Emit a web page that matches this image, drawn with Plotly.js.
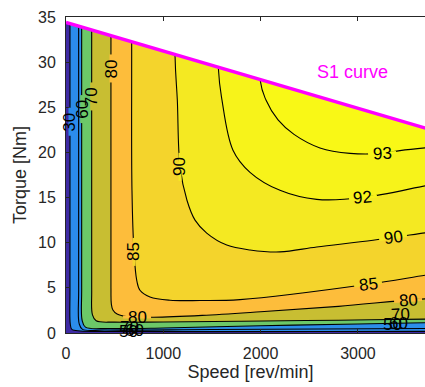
<!DOCTYPE html>
<html><head><meta charset="utf-8">
<script src="https://cdn.plot.ly/plotly-3.0.1.min.js"></script>
<style>html,body{margin:0;padding:0;overflow:hidden;background:#fff;width:425px;height:387px}#chart{width:470px;height:387px}</style>
</head><body><div id="chart"></div>
<script>
// ---- data ----
const levels = [30, 50, 60, 70, 80, 85, 90, 92, 93];

const s1Speed = [0, 3800];
const s1Torque = [34.4, 22.35];

const c30Speed  = [41, 41, 44, 60, 150, 400, 1500, 3800];
const c30Torque = [34.27, 5, 1.0, 0.4, 0.22, 0.16, 0.15, 0.18];
const c50Speed  = [130, 130, 136, 170, 400, 1500, 3800];
const c50Torque = [33.99, 5, 1.0, 0.4, 0.33, 0.38, 0.5];
const c60Speed  = [161, 161, 166, 200, 450, 1000, 2000, 3000, 3800];
const c60Torque = [33.89, 5, 1.4, 0.65, 0.5, 0.55, 0.8, 1.0, 1.15];
const c70Speed  = [264, 264, 272, 310, 500, 1000, 1800, 2800, 3800];
const c70Torque = [33.56, 5, 2.0, 1.35, 1.2, 1.22, 1.3, 1.42, 1.55];
const c80Speed  = [462, 462, 466, 482, 525, 630, 900, 1400, 2000, 2800, 3800];
const c80Torque = [32.94, 5, 3.2, 2.55, 2.1, 1.8, 1.75, 1.95, 2.35, 2.95, 3.85];
const c85Speed  = [675, 678, 699, 727, 760, 863, 1069, 1377, 1788, 3104, 3690, 3800];
const c85Torque = [32.26, 15.8, 8.98, 5.84, 4.73, 3.99, 3.63, 3.6, 3.7, 5.4, 6.4, 6.55];
const c90Speed  = [1120, 1144, 1172, 1243, 1326, 1446, 1652, 1891, 2199, 2576, 3155, 3690, 3800];
const c90Torque = [30.85, 25.8, 18.4, 14.7, 12.5, 11.07, 9.74, 9.2, 8.98, 9.53, 10.28, 11.09, 11.25];
const c92Speed  = [1565, 1603, 1716, 1891, 2199, 2576, 3052, 3690, 3800];
const c92Torque = [29.44, 25.8, 20.25, 17.8, 15.8, 14.8, 15.0, 16.3, 16.5];
const c93Speed  = [1994, 2055, 2179, 2343, 2610, 2919, 3248, 3432, 3690, 3800];
const c93Torque = [28.08, 25.8, 23.6, 22.0, 20.5, 19.9, 19.9, 20.2, 20.5, 20.6];

const xTicks = [0, 1000, 2000, 3000];
const yTicks = [0, 5, 10, 15, 20, 25, 30, 35];

// contour labels
const labelText   = ['30', '60', '70', '80', '85', '90', '93', '92', '90', '85', '80', '80', '70', '60', '50', '30', '70', '60', '50', '30'];
const labelSpeed  = [41, 161, 264, 462, 699, 1172, 3248, 3052, 3361, 3104, 3515, 730, 3440, 3420, 3360, 3402, 650, 700, 640, 560];
const labelTorque = [23.4, 24.8, 26.2, 29.3, 8.98, 18.4, 19.9, 15.0, 10.58, 5.4, 3.6, 1.77, 2.0, 1.1, 0.95, -0.1, 0.6, 0.3, 0.2, -0.1];
const labelAngle  = [-90, -90, -90, -90, -90, -90, -3, -5, -8, -7, -4, 0, -3, 0, 0, 0, 0, 0, 0, 0];
const labelGap    = [1, 1, 1, 1, 1, 1, 1, 1, 1, 1, 1, 1, 0, 0, 0, 0, 0, 0, 0, 0];

// ---- styling ----
const contours = [
  [c30Speed, c30Torque], [c50Speed, c50Torque], [c60Speed, c60Torque],
  [c70Speed, c70Torque], [c80Speed, c80Torque], [c85Speed, c85Torque],
  [c90Speed, c90Torque], [c92Speed, c92Torque], [c93Speed, c93Torque]
];
const baseColor = '#3E2AA4';
const bandColors = ['#2B8CEB', '#2C8EEA', '#6CC868', '#C8BE32', '#FDBD3B', '#F4D42C', '#F4E922', '#F7F31A', '#F9F816'];
const gapColors = {'30': '#2B8CEB', '60': '#6CC868', '70': '#C8BE32', '80': '#FDBD3B', '85': '#F4D42C', '90': '#F4E922', '92': '#F7F31A', '93': '#F9F816'};
const FAR_X = 4600, FAR_Y = 100;
const FONT = 'Liberation Sans, Arial, Helvetica, sans-serif';

const traces = [];
// background band (below lowest level)
traces.push({x: [-100, FAR_X, FAR_X, -100], y: [-5, -5, FAR_Y, FAR_Y], type: 'scatter', mode: 'lines',
  fill: 'toself', fillcolor: baseColor, line: {width: 0}, hoverinfo: 'skip'});

function extPath(c) {
  const sx = c[0], sy = c[1];
  return {x: [sx[0]].concat(sx, [FAR_X]), y: [FAR_Y].concat(sy, [sy[sy.length - 1]])};
}
contours.forEach((c, i) => {
  const p = extPath(c);
  traces.push({x: p.x.concat([FAR_X]), y: p.y.concat([FAR_Y]), type: 'scatter', mode: 'lines',
    fill: 'toself', fillcolor: bandColors[i], line: {width: 0, shape: 'spline', smoothing: 1}, hoverinfo: 'skip'});
});
contours.forEach((c) => {
  const p = extPath(c);
  traces.push({x: p.x, y: p.y, type: 'scatter', mode: 'lines',
    line: {color: '#000000', width: 1.1, shape: 'spline', smoothing: 1}, hoverinfo: 'skip'});
});
// blank area above S1 curve
traces.push({x: [s1Speed[0], s1Speed[1], s1Speed[1], s1Speed[0]],
  y: [s1Torque[0], s1Torque[1], FAR_Y, FAR_Y], type: 'scatter', mode: 'lines', fill: 'toself', fillcolor: '#FFFFFF',
  line: {width: 0}, hoverinfo: 'skip'});
// S1 curve
traces.push({x: s1Speed, y: s1Torque, type: 'scatter', mode: 'lines', line: {color: '#FF00FF', width: 3.5}, hoverinfo: 'skip'});

const annotations = [];
const shapes = [];
labelText.forEach((t, i) => {
  annotations.push({x: labelSpeed[i], y: labelTorque[i], xref: 'x', yref: 'y', text: t, showarrow: false,
    textangle: labelAngle[i], font: {family: FONT, size: 17, color: '#000000'}});
  if (labelGap[i]) {
    const a = labelAngle[i] * Math.PI / 180;
    const half = 14;
    shapes.push({type: 'line', xref: 'x', yref: 'y', xsizemode: 'pixel', ysizemode: 'pixel',
      xanchor: labelSpeed[i], yanchor: labelTorque[i],
      x0: -half * Math.cos(a), x1: half * Math.cos(a), y0: half * Math.sin(a), y1: -half * Math.sin(a),
      line: {color: gapColors[t], width: 3}, layer: 'above'});
  }
});
annotations.push({x: 2946, y: 28.9, xref: 'x', yref: 'y', text: 'S1 curve', showarrow: false,
  font: {family: FONT, size: 18, color: '#FF00FF'}});

const axisCommon = {showline: true, linecolor: '#262626', linewidth: 1, mirror: 'ticks', ticks: 'inside', ticklen: 4,
  tickcolor: '#262626', showgrid: false, zeroline: false, tickfont: {family: FONT, size: 16, color: '#262626'}};

const layout = {
  width: 470, height: 387,
  margin: {l: 66, r: 35, t: 17, b: 54},
  paper_bgcolor: '#FFFFFF', plot_bgcolor: '#FFFFFF',
  showlegend: false, hovermode: false,
  xaxis: Object.assign({}, axisCommon, {range: [0, 3792], tickmode: 'array', tickvals: xTicks, ticktext: xTicks.map(String),
    ticklabelstandoff: 6,
    title: {text: 'Speed [rev/min]', font: {family: FONT, size: 18, color: '#262626'}, standoff: 4}}),
  yaxis: Object.assign({}, axisCommon, {range: [0, 35], tickmode: 'array', tickvals: yTicks, ticktext: yTicks.map(String),
    ticklabelstandoff: 6,
    title: {text: 'Torque [Nm]', font: {family: FONT, size: 18, color: '#262626'}, standoff: 6}}),
  annotations: annotations,
  shapes: shapes
};
Plotly.newPlot('chart', traces, layout, {staticPlot: true, displayModeBar: false});
</script></body></html>
